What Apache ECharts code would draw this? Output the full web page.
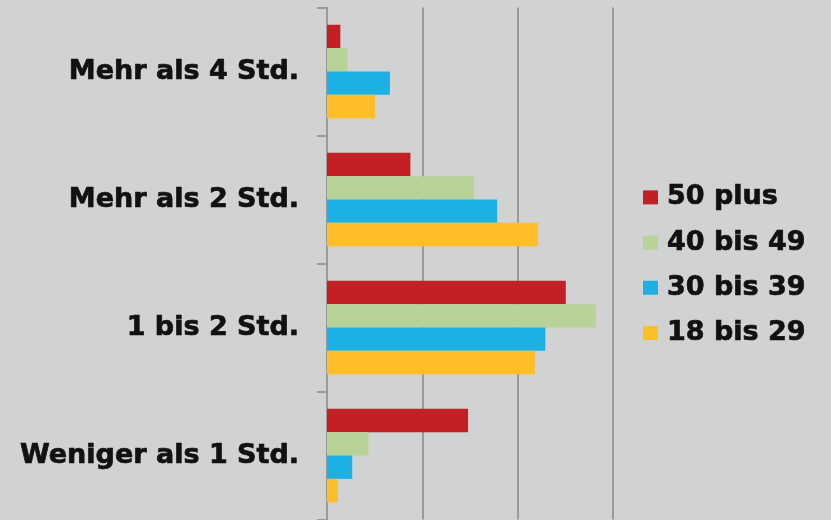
<!DOCTYPE html>
<html>
<head>
<meta charset="utf-8">
<script src="https://cdn.jsdelivr.net/npm/echarts@6/dist/echarts.min.js"></script>
<style>
  html, body { margin: 0; padding: 0; background: #d1d3d2; }
  #chart { width: 831px; height: 520px; }
</style>
</head>
<body>
<div id="chart"></div>
<script>
// Tägliche Nutzungsdauer nach Altersgruppe (Anteile in %)
const categories = ['Mehr als 4 Std.', 'Mehr als 2 Std.', '1 bis 2 Std.', 'Weniger als 1 Std.'];
const seriesNames = ['50 plus', '40 bis 49', '30 bis 39', '18 bis 29'];
const values50plus = [2.8, 17.5, 50.1, 29.6];
const values40to49 = [4.3, 30.8, 56.4, 8.7];
const values30to39 = [13.2, 35.7, 45.8, 5.3];
const values18to29 = [10.1, 44.3, 43.6, 2.3];
const colors = ['#c32026', '#b7d398', '#1cb0e4', '#fdbe28'];

const seriesValues = [values50plus, values40to49, values30to39, values18to29];
const labelFont = 'DejaVu Sans';
const textColor = '#111111';

const chart = echarts.init(document.getElementById('chart'), null, { renderer: 'canvas' });
chart.setOption({
  backgroundColor: '#d1d3d2',
  animation: false,
  grid: { left: 327, right: 218, top: 7.5, bottom: 0.5 },
  legend: {
    orient: 'vertical',
    left: 643,
    top: 183.5,
    padding: 0,
    itemWidth: 15,
    itemHeight: 14,
    itemGap: 17.5,
    icon: 'rect',
    textStyle: {
      fontFamily: labelFont, fontWeight: 'bold', fontSize: 27, lineHeight: 27,
      color: textColor, textBorderColor: textColor, textBorderWidth: 0.7,
      padding: [0, 0, 0, 4]
    },
    data: seriesNames
  },
  xAxis: {
    type: 'value',
    min: 0, max: 60, interval: 20,
    axisLabel: { show: false },
    axisLine: { show: false },
    axisTick: { show: false },
    splitLine: { show: true, lineStyle: { color: '#999a99', width: 2 } }
  },
  yAxis: {
    type: 'category',
    inverse: true,
    data: categories,
    axisLine: { show: true, lineStyle: { color: '#999a99', width: 2 } },
    axisTick: { show: true, length: 10, lineStyle: { color: '#999a99', width: 2 } },
    axisLabel: {
      margin: 28, fontFamily: labelFont, fontWeight: 'bold', fontSize: 27,
      color: textColor, textBorderColor: textColor, textBorderWidth: 0.7
    }
  },
  series: seriesNames.map((name, i) => ({
    name: name,
    type: 'bar',
    data: seriesValues[i],
    barGap: '0%',
    barCategoryGap: '27%',
    itemStyle: { color: colors[i] }
  }))
});
</script>
</body>
</html>
